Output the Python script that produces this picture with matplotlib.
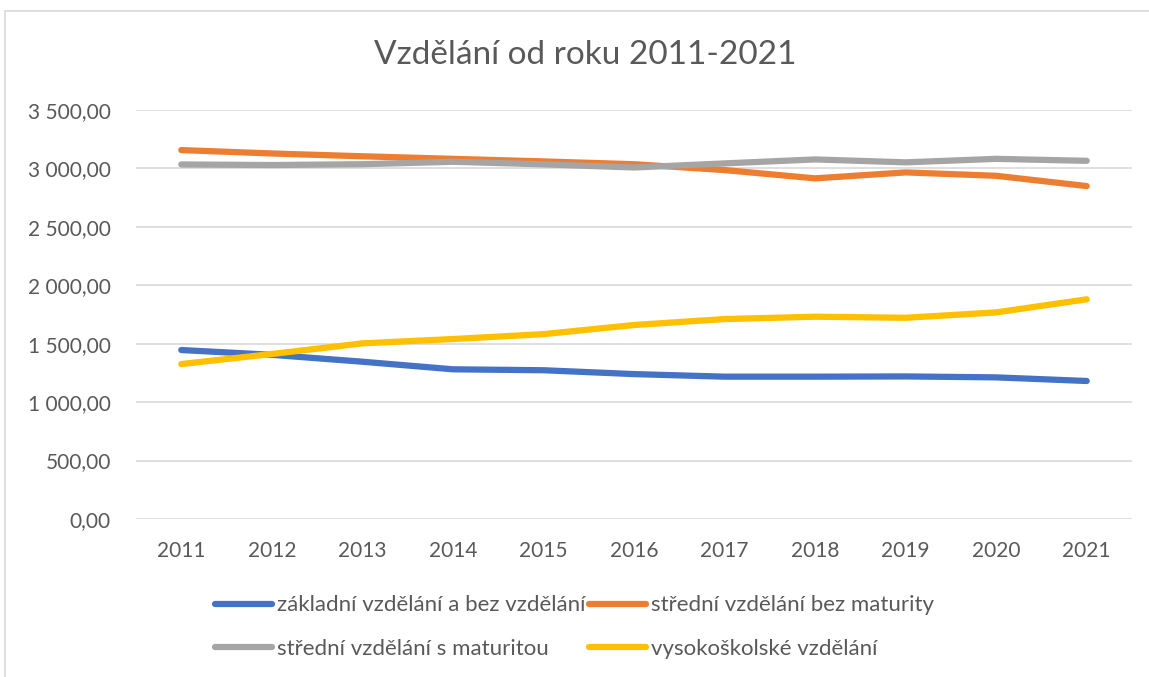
#Education in Czech Republic 2011-2021 (Excel-style line chart)
import matplotlib.pyplot as plt
from matplotlib.ticker import FuncFormatter
from matplotlib.patches import Rectangle

plt.rcParams['font.family'] = ['Lato', 'DejaVu Sans']

# Data
years = ["2011", "2012", "2013", "2014", "2015", "2016",
         "2017", "2018", "2019", "2020", "2021"]

zakladni = [1446, 1405, 1346, 1281, 1273, 1240, 1218, 1218, 1220, 1212, 1181]
stredni_bez = [3157, 3128, 3104, 3082, 3060, 3036, 2986, 2915, 2966, 2937, 2849]
stredni_s = [3034, 3029, 3036, 3057, 3035, 3008, 3043, 3077, 3052, 3082, 3065]
vysokoskolske = [1326, 1412, 1503, 1540, 1582, 1660, 1711, 1731, 1722, 1768, 1880]

labels = [
    "základní vzdělání a bez vzdělání",
    "střední vzdělání bez maturity",
    "střední vzdělání s maturitou",
    "vysokoškolské vzdělání"
]
colors = ["#4472C4", "#ED7D31", "#A5A5A5", "#FFC000"]

text_color = "#595959"
grid_color = "#D9D9D9"

fig = plt.figure(figsize=(11.49, 6.77), dpi=100)
ax = fig.add_axes([136/1149, 1 - 519/677, (1132 - 136)/1149, (519 - 110)/677])

# outer chart border (top and left only visible)
fig.patches.append(Rectangle((4.5/1149, -0.1), 1.2, 1 - 11/677 + 0.1,
                             transform=fig.transFigure, fill=False,
                             edgecolor=grid_color, linewidth=1.2))

x = range(len(years))
series = [zakladni, stredni_bez, stredni_s, vysokoskolske]
lines = []
for vals, lab, col in zip(series, labels, colors):
    ln, = ax.plot(x, vals, color=col, linewidth=4.5, label=lab,
                  solid_capstyle='round', solid_joinstyle='round')
    lines.append(ln)

ax.set_xlim(-0.5, len(years) - 0.5)
ax.set_ylim(0, 3500)
ax.set_yticks(range(0, 3501, 500))
ax.set_xticks(list(x))
ax.set_xticklabels(years)


def cz_format(v, pos):
    s = f"{v:,.2f}"
    return s.replace(",", " ").replace(".", ",")


ax.yaxis.set_major_formatter(FuncFormatter(cz_format))
ax.grid(axis='y', color=grid_color, linewidth=1.2)
ax.set_axisbelow(True)
for sp in ax.spines.values():
    sp.set_visible(False)
ax.tick_params(axis='both', length=0, labelsize=15, colors=text_color)
ax.tick_params(axis='y', pad=18)
ax.tick_params(axis='x', pad=16)

fig.text(0.509, 1 - 55/677, "Vzdělání od roku 2011-2021", ha='center', va='center',
         fontsize=24, color=text_color)

# legend fills column-wise, so reorder to get Excel's row-wise order
order = [0, 2, 1, 3]
fig.legend(handles=[lines[i] for i in order], loc='center',
           bbox_to_anchor=(0.5, 1 - 627/677),
           ncol=2, frameon=False, fontsize=16, labelcolor=text_color,
           handlelength=2.55, handletextpad=0.2, columnspacing=0.2,
           labelspacing=1.05)

plt.savefig("out.png", dpi=100)
